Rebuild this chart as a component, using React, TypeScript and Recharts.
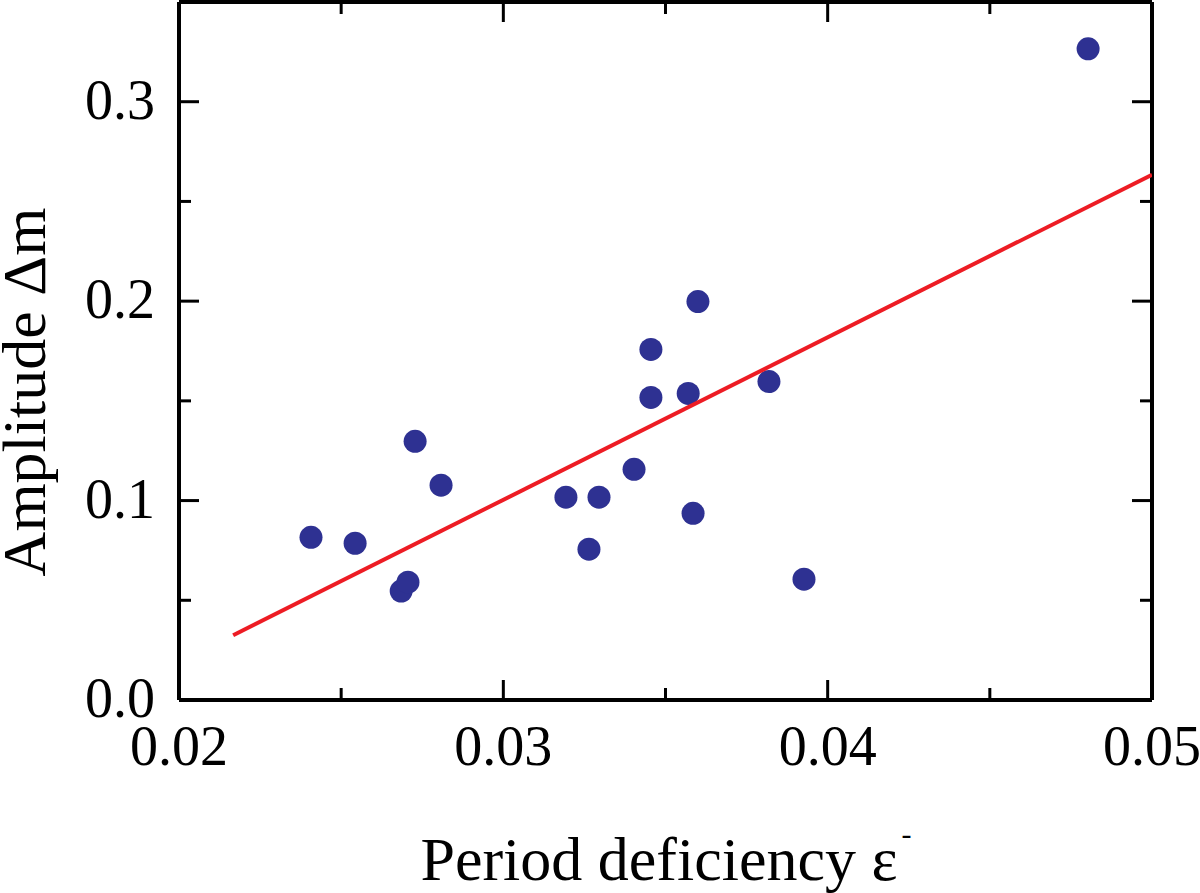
import { Scatter, ScatterChart, XAxis, YAxis } from 'recharts';

const FONT = '"Liberation Serif", "Times New Roman", serif';
const DOT = '#2e3192';
const FIT = '#ed1c24';

// period deficiency ε-, amplitude Δm
const epsilon = [
  0.02407, 0.02543, 0.02685, 0.02706, 0.02728, 0.02808, 0.03193, 0.03264, 0.03295,
  0.03403, 0.03455, 0.03455, 0.0357, 0.03585, 0.036, 0.03819, 0.03927, 0.04803,
];
const amplitude = [
  0.0816, 0.0786, 0.0546, 0.0591, 0.1297, 0.1077, 0.1017, 0.0756, 0.1017,
  0.1157, 0.1758, 0.1517, 0.1537, 0.0936, 0.1998, 0.1597, 0.0606, 0.3265,
];

// linear fit, end points
const fitX = [0.02167, 0.05];
const fitY = [0.0325, 0.2634];

const xTicks = [0.02, 0.025, 0.03, 0.035, 0.04, 0.045, 0.05];
const xMajor = ['0.02', '0.03', '0.04', '0.05'];
const yTicks = [0, 0.05, 0.1, 0.15, 0.2, 0.25, 0.3];
const yMajor = ['0.0', '0.1', '0.2', '0.3'];

const points = epsilon.map((x, i) => ({ x, y: amplitude[i] }));
const fit = fitX.map((x, i) => ({ x, y: fitY[i] }));

const MAJOR = 20;
const MINOR = 12;

function fmtX(v: number) {
  return v.toFixed(2);
}
function fmtY(v: number) {
  return v.toFixed(1);
}

function isMajor(v: number, labels: string[], fmt: (v: number) => string) {
  return labels.includes(fmt(v)) && Math.abs(Number(fmt(v)) - v) < 1e-9;
}

function BottomTick(props: any) {
  const { x, y, payload } = props;
  const major = isMajor(payload.value, xMajor, fmtX);
  return (
    <g>
      <line x1={x} x2={x} y1={y} y2={y - (major ? MAJOR : MINOR)} stroke="#000" strokeWidth={3} />
      {major && (
        <text x={x} y={y + 65} textAnchor="middle" fontFamily={FONT} fontSize={56} fill="#000">
          {fmtX(payload.value)}
        </text>
      )}
    </g>
  );
}

function TopTick(props: any) {
  const { x, y, payload } = props;
  const major = isMajor(payload.value, xMajor, fmtX);
  return <line x1={x} x2={x} y1={y} y2={y + (major ? MAJOR : MINOR)} stroke="#000" strokeWidth={3} />;
}

function LeftTick(props: any) {
  const { x, y, payload } = props;
  const major = isMajor(payload.value, yMajor, fmtY);
  return (
    <g>
      <line x1={x} x2={x + (major ? MAJOR : MINOR)} y1={y} y2={y} stroke="#000" strokeWidth={3} />
      {major && (
        <text x={x - 24} y={y + 17} textAnchor="end" fontFamily={FONT} fontSize={56} fill="#000">
          {fmtY(payload.value)}
        </text>
      )}
    </g>
  );
}

function RightTick(props: any) {
  const { x, y, payload } = props;
  const major = isMajor(payload.value, yMajor, fmtY);
  return <line x1={x} x2={x - (major ? MAJOR : MINOR)} y1={y} y2={y} stroke="#000" strokeWidth={3} />;
}

const Dot = (props: any) => <circle cx={props.cx} cy={props.cy} r={11.5} fill={DOT} />;

const xTitle = () => (
  <text x={666} y={880} textAnchor="middle" fontFamily={FONT} fontSize={62} fill="#000">
    Period deficiency ε
    <tspan dx={4} dy={-36} fontSize={30}>
      -
    </tspan>
  </text>
);

const yTitle = () => (
  <text
    x={45}
    y={392}
    transform="rotate(-90 45 392)"
    textAnchor="middle"
    fontFamily={FONT}
    fontSize={62}
    fill="#000"
  >
    Amplitude Δm
  </text>
);

export default function App() {
  return (
    <div style={{ width: 1200, height: 893, background: '#fff' }}>
      <style>{'body{margin:0}'}</style>
      <ScatterChart width={1200} height={893} margin={{ top: 0, right: 0, bottom: 0, left: 0 }}>
        <XAxis
          xAxisId="b"
          type="number"
          dataKey="x"
          domain={[0.02, 0.05]}
          ticks={xTicks}
          interval={0}
          allowDataOverflow
          height={193}
          tickSize={0}
          tickMargin={0}
          tickLine={false}
          tick={BottomTick}
          axisLine={{ stroke: '#000', strokeWidth: 4 }}
          label={xTitle}
        />
        <XAxis
          xAxisId="t"
          orientation="top"
          type="number"
          dataKey="x"
          domain={[0.02, 0.05]}
          ticks={xTicks}
          interval={0}
          allowDataOverflow
          height={2}
          tickSize={0}
          tickMargin={0}
          tickLine={false}
          tick={TopTick}
          axisLine={{ stroke: '#000', strokeWidth: 4 }}
        />
        <YAxis
          yAxisId="l"
          type="number"
          dataKey="y"
          domain={[0, 0.35]}
          ticks={yTicks}
          interval={0}
          allowDataOverflow
          width={179}
          tickSize={0}
          tickMargin={0}
          tickLine={false}
          tick={LeftTick}
          axisLine={{ stroke: '#000', strokeWidth: 4 }}
          label={yTitle}
        />
        <YAxis
          yAxisId="r"
          orientation="right"
          type="number"
          dataKey="y"
          domain={[0, 0.35]}
          ticks={yTicks}
          interval={0}
          allowDataOverflow
          width={48}
          tickSize={0}
          tickMargin={0}
          tickLine={false}
          tick={RightTick}
          axisLine={{ stroke: '#000', strokeWidth: 4 }}
        />
        <Scatter
          xAxisId="b"
          yAxisId="l"
          data={points}
          shape={Dot}
          isAnimationActive={false}
        />
        <Scatter
          xAxisId="b"
          yAxisId="l"
          data={fit}
          line={{ stroke: FIT, strokeWidth: 4 }}
          shape={() => null}
          isAnimationActive={false}
        />
        <Scatter xAxisId="t" yAxisId="r" data={points} shape={() => null} isAnimationActive={false} />
      </ScatterChart>
    </div>
  );
}
